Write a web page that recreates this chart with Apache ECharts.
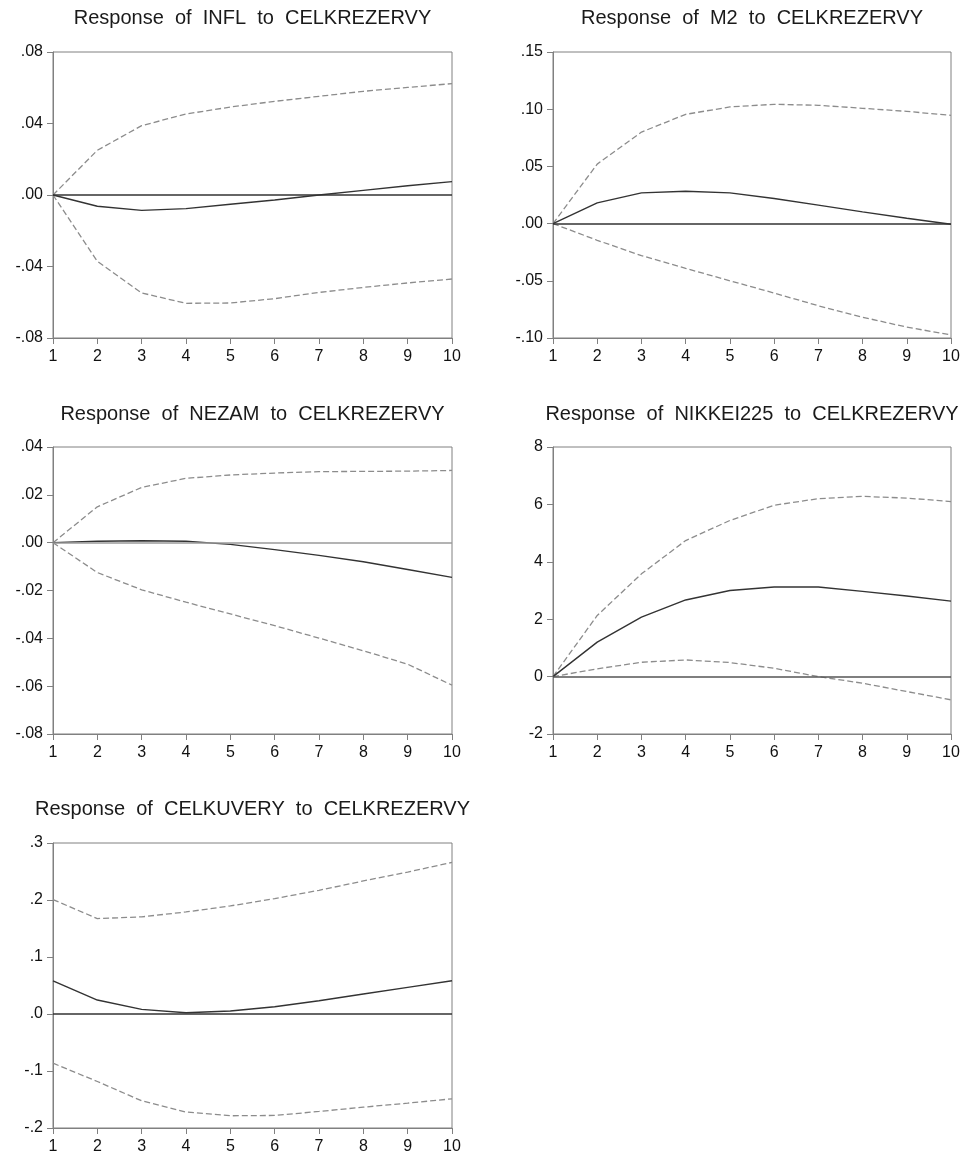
<!DOCTYPE html>
<html>
<head>
<meta charset="utf-8">
<script src="https://cdn.jsdelivr.net/npm/echarts@6/dist/echarts.min.js"></script>
<style>
html,body{margin:0;padding:0;background:#fff;}
#chart{width:973px;height:1155px;}
</style>
</head>
<body>
<div id="chart"></div>
<script>
// ---- data ----
const periods = [1,2,3,4,5,6,7,8,9,10];
const xTickLabels = ['1','2','3','4','5','6','7','8','9','10'];

const titles = [
  'Response  of  INFL  to  CELKREZERVY',
  'Response  of  M2  to  CELKREZERVY',
  'Response  of  NEZAM  to  CELKREZERVY',
  'Response  of  NIKKEI225  to  CELKREZERVY',
  'Response  of  CELKUVERY  to  CELKREZERVY'
];

// INFL
const inflResp  = [0, -0.0063, -0.0086, -0.0076, -0.0052, -0.0028, 0.0000, 0.0026, 0.0052, 0.0075];
const inflUpper = [0, 0.0250, 0.0388, 0.0453, 0.0492, 0.0524, 0.0552, 0.0580, 0.0602, 0.0623];
const inflLower = [0, -0.0371, -0.0548, -0.0606, -0.0604, -0.0580, -0.0545, -0.0517, -0.0492, -0.0470];
const inflYTicks = ['-.08','-.04','.00','.04','.08'];

// M2
const m2Resp  = [0, 0.0181, 0.0269, 0.0283, 0.0269, 0.0219, 0.0161, 0.0102, 0.0047, -0.0006];
const m2Upper = [0, 0.0520, 0.0800, 0.0955, 0.1020, 0.1043, 0.1034, 0.1008, 0.0981, 0.0946];
const m2Lower = [0, -0.0146, -0.0280, -0.0391, -0.0500, -0.0607, -0.0718, -0.0818, -0.0905, -0.0973];
const m2YTicks = ['-.10','-.05','.00','.05','.10','.15'];

// NEZAM
const nezamResp  = [0, 0.0006, 0.0008, 0.0006, -0.0007, -0.0029, -0.0053, -0.0080, -0.0112, -0.0145];
const nezamUpper = [0, 0.0150, 0.0231, 0.0269, 0.0283, 0.0291, 0.0297, 0.0298, 0.0299, 0.0302];
const nezamLower = [0, -0.0125, -0.0197, -0.0249, -0.0298, -0.0347, -0.0399, -0.0452, -0.0508, -0.0596];
const nezamYTicks = ['-.08','-.06','-.04','-.02','.00','.02','.04'];

// NIKKEI225
const nikResp  = [0, 1.20, 2.07, 2.67, 3.00, 3.12, 3.12, 2.97, 2.81, 2.63];
const nikUpper = [0, 2.13, 3.58, 4.74, 5.44, 5.97, 6.20, 6.28, 6.22, 6.10];
const nikLower = [0, 0.27, 0.50, 0.58, 0.49, 0.29, 0.00, -0.23, -0.52, -0.81];
const nikYTicks = ['-2','0','2','4','6','8'];

// CELKUVERY
const celkResp  = [0.0583, 0.0245, 0.0082, 0.0023, 0.0053, 0.0128, 0.0233, 0.0350, 0.0467, 0.0583];
const celkUpper = [0.2007, 0.1674, 0.1704, 0.1790, 0.1896, 0.2025, 0.2170, 0.2334, 0.2490, 0.2660];
const celkLower = [-0.0863, -0.1184, -0.1523, -0.1720, -0.1785, -0.1780, -0.1710, -0.1634, -0.1564, -0.1488];
const celkYTicks = ['-.2','-.1','.0','.1','.2','.3'];

// ---- panel configuration (layout/style) ----
const FONT = '"Liberation Sans", Arial, sans-serif';
const panels = [
  {resp: inflResp, up: inflUpper, lo: inflLower, ticks: inflYTicks, min: -0.08, max: 0.08, interval: 0.04,
   grid: {left: 53, top: 52, width: 399, height: 286}, titleY: 8, zeroColor: '#333'},
  {resp: m2Resp, up: m2Upper, lo: m2Lower, ticks: m2YTicks, min: -0.10, max: 0.15, interval: 0.05,
   grid: {left: 553, top: 52, width: 398, height: 286}, titleY: 8, zeroColor: '#333'},
  {resp: nezamResp, up: nezamUpper, lo: nezamLower, ticks: nezamYTicks, min: -0.08, max: 0.04, interval: 0.02,
   grid: {left: 53, top: 447, width: 399, height: 287}, titleY: 404, zeroColor: '#9a9a9a'},
  {resp: nikResp, up: nikUpper, lo: nikLower, ticks: nikYTicks, min: -2, max: 8, interval: 2,
   grid: {left: 553, top: 447, width: 398, height: 287}, titleY: 404, zeroColor: '#555'},
  {resp: celkResp, up: celkUpper, lo: celkLower, ticks: celkYTicks, min: -0.2, max: 0.3, interval: 0.1,
   grid: {left: 53, top: 843, width: 399, height: 285}, titleY: 799, zeroColor: '#333'}
];

const pairs = arr => periods.map((p, i) => [p, arr[i]]);

const option = {
  animation: false,
  backgroundColor: '#fff',
  title: [], grid: [], xAxis: [], yAxis: [], series: []
};

panels.forEach((pn, k) => {
  const g = pn.grid;
  option.grid.push(Object.assign({show: true, borderColor: '#808080', borderWidth: 1, backgroundColor: 'transparent', containLabel: false}, g));
  option.title.push({
    text: titles[k],
    left: g.left + g.width / 2,
    top: pn.titleY,
    textAlign: 'center',
    padding: 0,
    textStyle: {fontFamily: FONT, fontSize: 20, fontWeight: 'normal', color: '#1a1a1a'}
  });
  option.xAxis.push({
    type: 'value', gridIndex: k, min: 1, max: 10, interval: 1,
    axisLine: {show: true, onZero: false, lineStyle: {color: '#808080', width: 1}},
    axisTick: {show: true, inside: false, length: 6, lineStyle: {color: '#808080'}},
    axisLabel: {margin: 11, fontFamily: FONT, fontSize: 16, color: '#111',
      formatter: v => xTickLabels[Math.round(v - 1)]},
    splitLine: {show: false}
  });
  option.yAxis.push({
    type: 'value', gridIndex: k, min: pn.min, max: pn.max, interval: pn.interval,
    axisLine: {show: true, onZero: false, lineStyle: {color: '#808080', width: 1}},
    axisTick: {show: true, inside: false, length: 6, lineStyle: {color: '#808080'}},
    axisLabel: {margin: 10, fontFamily: FONT, fontSize: 16, color: '#111',
      formatter: v => pn.ticks[Math.round((v - pn.min) / pn.interval)]},
    splitLine: {show: false}
  });
  option.series.push({
    type: 'line', xAxisIndex: k, yAxisIndex: k, data: pairs(pn.up),
    showSymbol: false, symbol: 'none',
    lineStyle: {color: '#8c8c8c', width: 1.3, type: [6, 3]}
  });
  option.series.push({
    type: 'line', xAxisIndex: k, yAxisIndex: k, data: pairs(pn.lo),
    showSymbol: false, symbol: 'none',
    lineStyle: {color: '#8c8c8c', width: 1.3, type: [6, 3]}
  });
  option.series.push({
    type: 'line', xAxisIndex: k, yAxisIndex: k, data: pairs(pn.resp),
    showSymbol: false, symbol: 'none', z: 3,
    lineStyle: {color: '#333', width: 1.4, type: 'solid'},
    markLine: {
      silent: true, symbol: ['none', 'none'], label: {show: false},
      lineStyle: {color: pn.zeroColor, width: 1.5, type: 'solid'},
      data: [{yAxis: 0}]
    }
  });
});

const chart = echarts.init(document.getElementById('chart'), null, {renderer: 'canvas'});
chart.setOption(option);
</script>
</body>
</html>
